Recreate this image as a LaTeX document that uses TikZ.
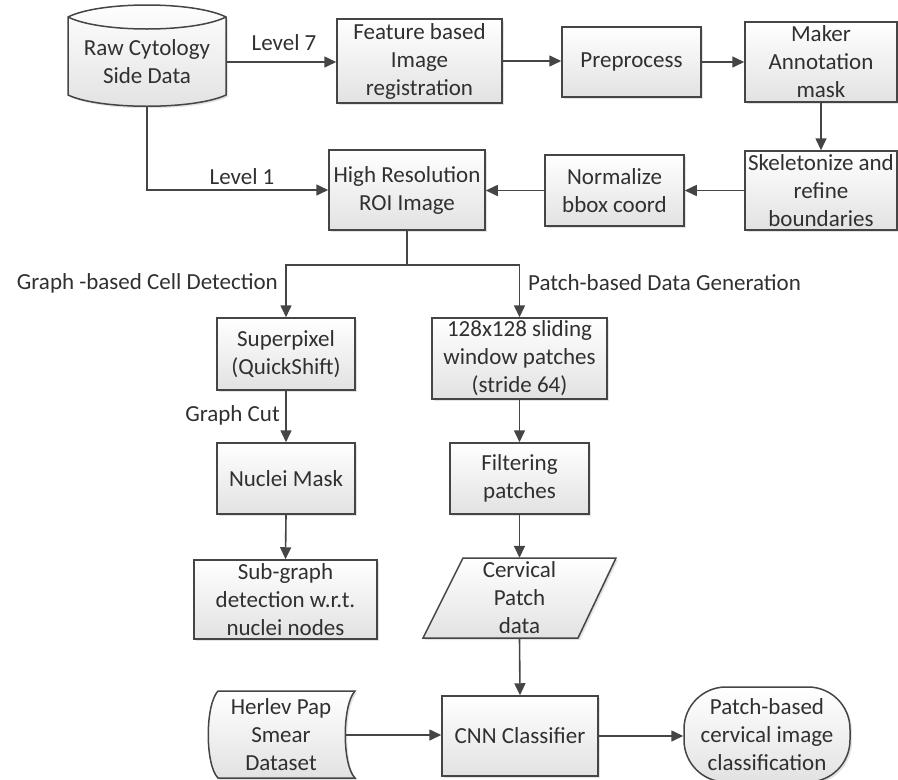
\documentclass[tikz,border=0pt]{standalone}
\usepackage{fontspec}
\setmainfont{Carlito}
\usetikzlibrary{arrows.meta,shadows}
\definecolor{lc}{HTML}{454545}
\definecolor{tc}{HTML}{303030}
\definecolor{boxbot}{HTML}{E2E2E2}
\newcommand{\fsz}{\fontsize{23}{28}\selectfont}
\tikzset{
  shd/.style={drop shadow={shadow xshift=2pt,shadow yshift=-2pt,opacity=0.22,fill=gray}},
  box/.style={draw=lc, line width=1.5pt, top color=white, bottom color=boxbot, shd,
    align=center, inner sep=0pt, font=\fsz, text=tc, rectangle},
  ghost/.style={align=center, inner sep=0pt, font=\fsz, text=tc, rectangle},
  shp/.style={draw=lc, line width=1.5pt, top color=white, bottom color=boxbot, shd},
  arr/.style={draw=lc, line width=1.6pt, -{Triangle[length=12pt,width=11pt]}},
  lbl/.style={font=\fsz, text=tc, inner sep=0pt}
}
\begin{document}
\begin{tikzpicture}[x=1pt,y=-1pt]
\useasboundingbox (0,0) rectangle (898,780);
% custom shapes
\path[shp] (68,17) .. controls (100,1) and (194,1) .. (226,17) -- (226,95)
  .. controls (194,110) and (100,110) .. (68,95) -- cycle;
\draw[draw=lc, line width=1.5pt] (68,17) .. controls (100,33) and (194,33) .. (226,17);
\path[shp] (218,691) -- (355,691) .. controls (342,705) and (342,765) .. (355,778)
  -- (218,778) .. controls (205,765) and (205,705) .. (218,691) -- cycle;
\path[shp] (463,558) -- (616,558) -- (578,638) -- (423,638) -- cycle;
% nodes
\node[ghost, minimum width=158, minimum height=88] (raw) at (147,62) {Raw Cytology\\Side Data};
\node[box, minimum width=165, minimum height=84] (feat) at (419.5,61) {Feature based\\Image\\registration};
\node[box, minimum width=139, minimum height=70] (pre) at (631.5,62) {Preprocess};
\node[box, minimum width=152, minimum height=80] (mask) at (821,62) {Maker\\Annotation\\mask};
\node[box, minimum width=152, minimum height=79] (skel) at (821,190.5) {Skeletonize and\\refine\\boundaries};
\node[box, minimum width=139, minimum height=71] (norm) at (614.5,190.5) {Normalize\\bbox coord};
\node[box, minimum width=156, minimum height=80] (hr) at (407,190) {High Resolution\\ROI Image};
\node[box, minimum width=138, minimum height=72] (sp) at (286,354) {Superpixel\\(QuickShift)};
\node[box, minimum width=175, minimum height=81] (win) at (519.5,358.5) {128x128 sliding\\window patches\\(stride 64)};
\node[box, minimum width=138, minimum height=71] (nm) at (286,478.5) {Nuclei Mask};
\node[box, minimum width=183, minimum height=79] (sub) at (285.5,599.5) {Sub-graph\\detection w.r.t.\\nuclei nodes};
\node[box, minimum width=139, minimum height=71] (filt) at (519.5,478.5) {Filtering\\patches};
\node[ghost, minimum width=120, minimum height=80] (cerv) at (519.5,598) {Cervical\\Patch\\data};
\node[box, minimum width=156, minimum height=80] (cnn) at (520,736) {CNN Classifier};
\node[ghost, minimum width=128, minimum height=87] (herl) at (281,735) {Herlev Pap\\Smear\\Dataset};
\node[box, rounded corners=42pt, minimum width=166, minimum height=95] (term) at (767,734.5) {Patch-based\\cervical image\\classification};
\coordinate (rawb) at (147,106);
\coordinate (br) at (407,265);
% connectors
\draw[arr] (raw.east) -- (feat.west |- raw.east);
\draw[arr] (feat.east) -- (pre.west |- feat.east);
\draw[arr] (pre.east) -- (mask.west |- pre.east);
\draw[arr] (mask.south) -- (skel.north);
\draw[arr] (skel.west) -- (norm.east |- skel.west);
\draw[arr] (norm.west) -- (hr.east |- norm.west);
\draw[arr] (rawb) |- (hr.west);
\draw[draw=lc, line width=1.6pt] (hr.south) -- (br);
\draw[arr] (br) -| (sp.north);
\draw[arr] (br) -| (win.north);
\draw[arr] (sp.south) -- (nm.north);
\draw[arr] (nm.south) -- (sub.north);
\draw[arr] (win.south) -- (filt.north);
\draw[arr] (filt.south) -- (cerv.north);
\draw[arr] (cerv.south) -- (cnn.north);
\draw[arr] (herl.east) -- (cnn.west |- herl.east);
\draw[arr] (cnn.east) -- (term.west |- cnn.east);
% labels
\node[lbl] (l7) at (284,43) {Level 7};
\node[lbl] (l1) at (242,177) {Level 1};
\node[lbl, anchor=east] (gb) at (278,283) {Graph -based Cell Detection};
\node[lbl, anchor=west] (pb) at (528,283) {Patch-based Data Generation};
\node[lbl, anchor=east] (gc) at (280,415) {Graph Cut};
\end{tikzpicture}
\end{document}
